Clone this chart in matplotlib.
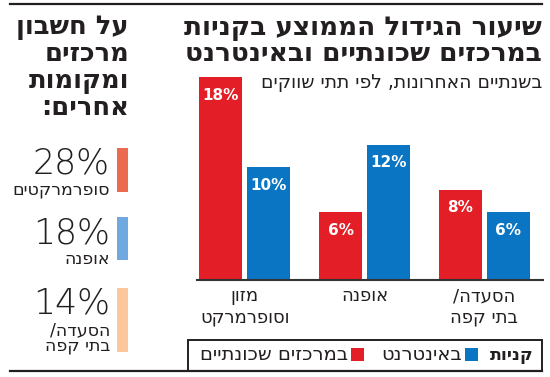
import matplotlib
matplotlib.use("Agg")
import matplotlib.pyplot as plt
from matplotlib.patches import Rectangle
from matplotlib.lines import Line2D

plt.rcParams['font.family'] = ['DejaVu Sans Condensed', 'DejaVu Sans']

# data (left to right, as drawn)
categories = [['מזון', 'וסופרמרקט'], ['אופנה'], ['הסעדה/', 'בתי קפה']]
neighbourhood = [18, 6, 8]   # במרכזים שכונתיים
internet = [10, 12, 6]       # באינטרנט

other_values = [28, 18, 14]
other_labels = [['סופרמרקטים'], ['אופנה'], ['הסעדה/', 'בתי קפה']]

RED = '#E31E26'
BLUE = '#0A76C3'
other_colors = ['#EC6B50', '#70A9DF', '#FCC79D']
DARK = '#231F20'

W, H = 550, 377


def heb(s):
    # matplotlib has no bidi support, flip to visual order
    return s[::-1]


def fx(x):
    return x / W


def fy(y):
    return 1 - y / H


fig = plt.figure(figsize=(W / 100, H / 100), dpi=100)

# frame lines
fig.add_artist(Line2D([fx(10), fx(542)], [fy(4), fy(4)], color=DARK, lw=1.6))
fig.add_artist(Line2D([fx(10), fx(542)], [fy(371), fy(371)], color=DARK, lw=1.6))

# ---- left panel
for i, line in enumerate(['על חשבון', 'מרכזים', 'ומקומות', 'אחרים:']):
    fig.text(fx(129), fy(27 + i * 27), heb(line), ha='right', va='center',
             fontsize=18.5, fontweight='bold', color=DARK)

bar_tops = [148, 217, 288]
bar_bots = [192, 260, 352]
for i, v in enumerate(other_values):
    fig.add_artist(Rectangle((fx(117), fy(bar_bots[i])), fx(11),
                             (bar_bots[i] - bar_tops[i]) / H,
                             color=other_colors[i], lw=0))
    fig.text(fx(110), fy(bar_tops[i] + 26), f'{v}%', ha='right', va='baseline',
             fontsize=25, color=DARK, fontweight='light')
    lab = '\n'.join(heb(s) for s in other_labels[i])
    fig.text(fx(110), fy(bar_tops[i] + 33), lab, ha='right', va='top',
             fontsize=12.5, color=DARK, linespacing=0.8,
             multialignment='right')

# ---- right panel titles
fig.text(fx(542), fy(28), heb('שיעור הגידול הממוצע בקניות'), ha='right',
         va='center', fontsize=19, fontweight='bold', color=DARK)
fig.text(fx(542), fy(54), heb('במרכזים שכונתיים ובאינטרנט'), ha='right',
         va='center', fontsize=19, fontweight='bold', color=DARK)
fig.text(fx(542), fy(83), heb('בשנתיים האחרונות, לפי תתי שווקים'), ha='right',
         va='center', fontsize=13.5, color=DARK)

# ---- bar chart
ax = fig.add_axes([fx(197), fy(280), fx(543 - 197), (280 - 77) / H])
ax.set_xlim(-0.40, 2.49)
ax.set_ylim(0, 18)
ax.axis('off')
x = range(len(categories))
w = 0.36
off = 0.2
b1 = ax.bar([i - off for i in x], neighbourhood, w, color=RED)
b2 = ax.bar([i + off for i in x], internet, w, color=BLUE)
for bars, vals in [(b1, neighbourhood), (b2, internet)]:
    for b, v in zip(bars, vals):
        ax.annotate(f'{v}%', (b.get_x() + b.get_width() / 2, v),
                    xytext=(0, -18), textcoords='offset pixels',
                    ha='center', va='center', color='white',
                    fontsize=11, fontweight='bold')
ax.axhline(0, color='#333333', lw=1.5, clip_on=False)
for i, lines in enumerate(categories):
    for j, lab in enumerate(lines):
        ax.annotate(heb(lab), (i, 0), xytext=(0, -16 - j * 21),
                    textcoords='offset pixels', ha='center', va='center',
                    fontsize=13, color=DARK, annotation_clip=False)

# ---- legend box
fig.add_artist(Rectangle((fx(188), fy(371)), fx(542 - 188), 31 / H,
                         fill=False, ec=DARK, lw=1.4))
fig.text(fx(534), fy(355), heb('קניות'), ha='right', va='center',
         fontsize=12.5, fontweight='bold', color=DARK)
fig.add_artist(Rectangle((fx(465), fy(361)), fx(13), 13 / H, color=BLUE, lw=0))
fig.text(fx(462), fy(355), heb('באינטרנט'), ha='right', va='center',
         fontsize=14, color=DARK)
fig.add_artist(Rectangle((fx(351), fy(361)), fx(13), 13 / H, color=RED, lw=0))
fig.text(fx(348), fy(355), heb('במרכזים שכונתיים'), ha='right', va='center',
         fontsize=14, color=DARK)

fig.savefig('out.png', dpi=100)
